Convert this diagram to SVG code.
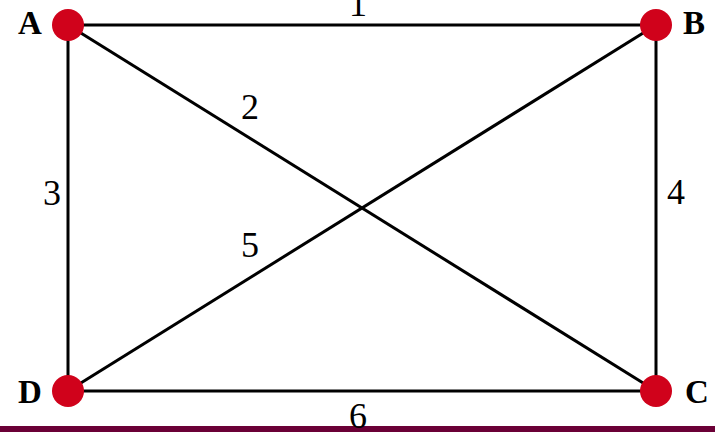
<svg xmlns="http://www.w3.org/2000/svg" width="715" height="432" viewBox="0 0 715 432">
<style>
.e{stroke:#000;stroke-width:3;fill:none}
.n{fill:#d0021b}
.lbl{font-family:"Liberation Serif",serif;font-weight:bold;font-size:33px;fill:#000}
.w{font-family:"Liberation Serif",serif;font-size:36px;fill:#000;text-anchor:middle}
</style>
<rect width="715" height="432" fill="#fff"/>
<g id="connectors">
<line class="e" x1="68" y1="25" x2="656" y2="25"/>
<line class="e" x1="68" y1="25" x2="656" y2="391"/>
<line class="e" x1="68" y1="25" x2="68" y2="391"/>
<line class="e" x1="656" y1="25" x2="656" y2="391"/>
<line class="e" x1="656" y1="25" x2="68" y2="391"/>
<line class="e" x1="68" y1="391" x2="656" y2="391"/>
<text class="w" x="358" y="16">1</text>
<text class="w" x="250" y="119">2</text>
<text class="w" x="52" y="205">3</text>
<text class="w" x="676" y="204">4</text>
<text class="w" x="250" y="257">5</text>
</g>
<rect x="0" y="426" width="715" height="6" fill="#6b0036"/>
<text class="w" x="358" y="428">6</text>
<g id="A"><circle class="n" cx="68" cy="25" r="16"/><text class="lbl" x="18" y="34">A</text></g>
<g id="B"><circle class="n" cx="656" cy="25" r="16"/><text class="lbl" x="683" y="34">B</text></g>
<g id="C"><circle class="n" cx="656" cy="391" r="16"/><text class="lbl" x="685" y="403">C</text></g>
<g id="D"><circle class="n" cx="68" cy="391" r="16"/><text class="lbl" x="18" y="403">D</text></g>
</svg>
